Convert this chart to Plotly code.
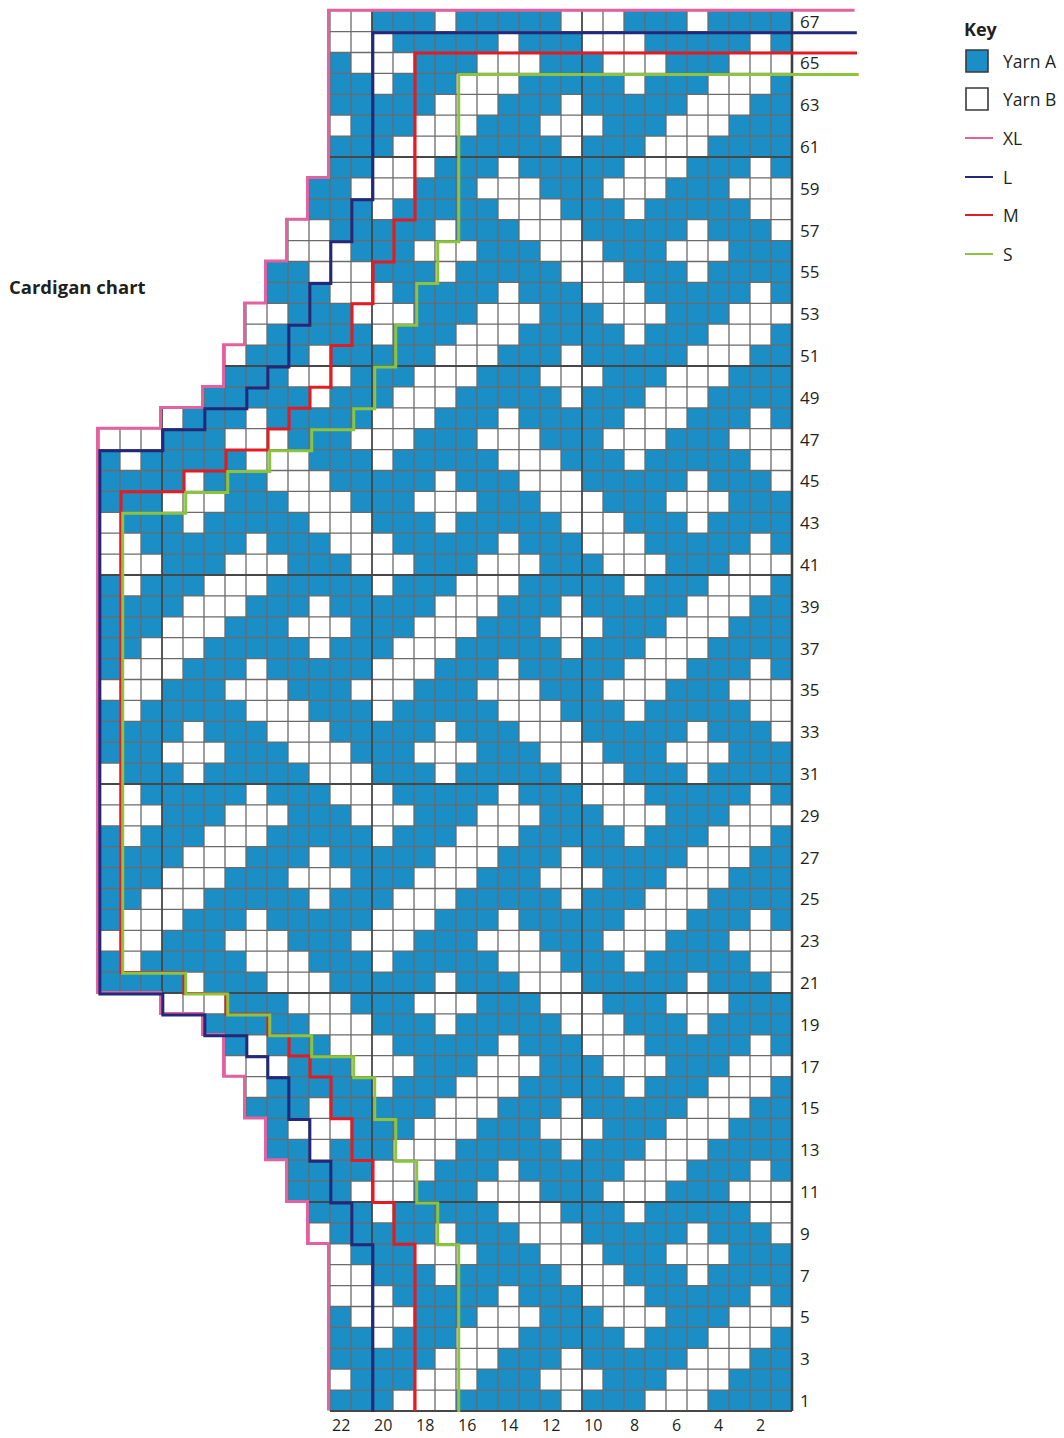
import plotly.graph_objects as go

# ---- chart data -------------------------------------------------------------
# one string per row, row 67 first; each string runs from the leftmost stitch
# down to stitch 1 on the right.  "x" = Yarn B (white), "." = Yarn A (blue)
chart_rows = [
    "xx...x.....xxx...x....",             # 67
    "xxx.....x...xxx.....x.",             # 66
    ".xxx...xxx...xxx...xxx",             # 65
    "..x...xxx.....x...xxx.",             # 64
    ".....xxx...x.....xxx..",             # 63
    "x...xxx...xxx...xxx...",             # 62
    "...xxx.....x...xxx....",             # 61
    "..xxx...x.....xxx...x.",             # 60
    "..xxx...xxx...xxx...xxx",            # 59
    "...x.....xxx...x.....xx",            # 58
    "xx.....x...xxx.....x...x",           # 57
    "xxx...xxx...xxx...xxx...",           # 56
    "..xxx...x.....xxx...x....",          # 55
    "...xxx.....x...xxx.....x.",          # 54
    "xx...xxx...xxx...xxx...xxx",         # 53
    "x.....x...xxx.....x...xxx.",         # 52
    "x...x.....xxx...x.....xxx..",        # 51
    "...xxx...xxx...xxx...xxx...",        # 50
    ".....x...xxx.....x...xxx....",       # 49
    "x...x.....xxx...x.....xxx...x.",     # 48
    "xxx...xxx...xxx...xxx...xxx...xxx",  # 47
    ".x.....xxx...x.....xxx...x.....xx",  # 46
    "....x...xxx.....x...xxx.....x...x",  # 45
    "...xxx...xxx...xxx...xxx...xxx...",  # 44
    "x...x.....xxx...x.....xxx...x....",  # 43
    "xx.....x...xxx.....x...xxx.....x.",  # 42
    "xxx...xxx...xxx...xxx...xxx...xxx",  # 41
    ".x...xxx.....x...xxx.....x...xxx.",  # 40
    "....xxx...x.....xxx...x.....xxx..",  # 39
    "...xxx...xxx...xxx...xxx...xxx...",  # 38
    "..xxx.....x...xxx.....x...xxx....",  # 37
    ".xxx...x.....xxx...x.....xxx...x.",  # 36
    "xxx...xxx...xxx...xxx...xxx...xxx",  # 35
    ".x.....xxx...x.....xxx...x.....xx",  # 34
    "....x...xxx.....x...xxx.....x...x",  # 33
    "...xxx...xxx...xxx...xxx...xxx...",  # 32
    "x...x.....xxx...x.....xxx...x....",  # 31
    "xx.....x...xxx.....x...xxx.....x.",  # 30
    "xxx...xxx...xxx...xxx...xxx...xxx",  # 29
    ".x...xxx.....x...xxx.....x...xxx.",  # 28
    "....xxx...x.....xxx...x.....xxx..",  # 27
    "...xxx...xxx...xxx...xxx...xxx...",  # 26
    "..xxx.....x...xxx.....x...xxx....",  # 25
    ".xxx...x.....xxx...x.....xxx...x.",  # 24
    "xxx...xxx...xxx...xxx...xxx...xxx",  # 23
    ".x.....xxx...x.....xxx...x.....xx",  # 22
    "....x...xxx.....x...xxx.....x...x",  # 21
    "xxx...xxx...xxx...xxx...xxx...",     # 20
    ".....xxx...x.....xxx...x....",       # 19
    ".x...xxx.....x...xxx.....x.",        # 18
    "xxx...xxx...xxx...xxx...xxx",        # 17
    "x.....x...xxx.....x...xxx.",         # 16
    "...x.....xxx...x.....xxx..",         # 15
    ".xxx...xxx...xxx...xxx...",          # 14
    "..x...xxx.....x...xxx....",          # 13
    "....xxx...x.....xxx...x.",           # 12
    "...xxx...xxx...xxx...xxx",           # 11
    "...x.....xxx...x.....xx",            # 10
    "x.....x...xxx.....x...x",            # 9
    "x...xxx...xxx...xxx...",             # 8
    "xx...x.....xxx...x....",             # 7
    "xxx.....x...xxx.....x.",             # 6
    ".xxx...xxx...xxx...xxx",             # 5
    "..x...xxx.....x...xxx.",             # 4
    ".....xxx...x.....xxx..",             # 3
    "x...xxx...xxx...xxx...",             # 2
    "...xxx.....x...xxx....",             # 1
]

row_labels = [1, 3, 5, 7, 9, 11, 13, 15, 17, 19, 21, 23, 25, 27, 29, 31, 33,
              35, 37, 39, 41, 43, 45, 47, 49, 51, 53, 55, 57, 59, 61, 63, 65, 67]
col_labels = [22, 20, 18, 16, 14, 12, 10, 8, 6, 4, 2]

# size outlines: (first row, last row, stitches from the right edge)
size_XL = [(1, 8, 22), (9, 10, 23), (11, 12, 24), (13, 14, 25), (15, 16, 26),
           (17, 18, 27), (19, 19, 28), (20, 20, 30), (21, 47, 33), (48, 48, 30),
           (49, 49, 28), (50, 51, 27), (52, 53, 26), (54, 55, 25), (56, 57, 24),
           (58, 59, 23), (60, 67, 22)]
size_L = [(1, 8, 20), (9, 10, 21), (11, 12, 22), (13, 14, 23), (15, 16, 24),
          (17, 17, 25), (18, 18, 26), (19, 19, 28), (20, 20, 30), (21, 46, 33),
          (47, 47, 30), (48, 48, 28), (49, 49, 26), (50, 50, 25), (51, 52, 24),
          (53, 54, 23), (55, 56, 22), (57, 58, 21), (59, 66, 20)]
size_M = [(1, 8, 18), (9, 10, 19), (11, 12, 20), (13, 14, 21), (15, 16, 22),
          (17, 17, 23), (18, 18, 24), (19, 19, 25), (20, 20, 27), (21, 21, 29),
          (22, 44, 32), (45, 45, 29), (46, 46, 27), (47, 47, 25), (48, 48, 24),
          (49, 49, 23), (50, 51, 22), (52, 53, 21), (54, 55, 20), (56, 57, 19),
          (58, 65, 18)]
size_S = [(1, 8, 16), (9, 10, 17), (11, 12, 18), (13, 14, 19), (15, 16, 20),
          (17, 17, 21), (18, 18, 23), (19, 19, 25), (20, 20, 27), (21, 21, 29),
          (22, 43, 32), (44, 44, 29), (45, 45, 27), (46, 46, 25), (47, 47, 23),
          (48, 48, 21), (49, 50, 20), (51, 52, 19), (53, 54, 18), (55, 56, 17),
          (57, 64, 16)]

size_names = ["XL", "L", "M", "S"]
size_colors = ["#e4619f", "#23287a", "#e31b23", "#8cc43f"]
yarn_names = ["Yarn A", "Yarn B"]
yarn_colors = ["#1b8ec5", "#ffffff"]

W, H = 1064, 1438
FONT = "Open Sans"
TXT = "#231f20"


# pixel -> data helpers (stitch columns grow to the left)
def xd(px):
    return (802.5 - px) / 21.0


def yd(py):
    return (1421.45 - py) / 20.9


n_rows = len(chart_rows)
n_cols = max(len(s) for s in chart_rows)
widths = {}
z = [[None] * n_cols for _ in range(n_rows)]
for i, s in enumerate(chart_rows):
    r = n_rows - i
    widths[r] = len(s)
    for j, ch in enumerate(s):
        k = len(s) - j
        z[r - 1][k - 1] = 1 if ch == "x" else 0

fig = go.Figure()
fig.add_trace(go.Heatmap(
    z=z, x=list(range(1, n_cols + 1)), y=list(range(1, n_rows + 1)),
    colorscale=[[0, yarn_colors[0]], [1, yarn_colors[1]]], zmin=0, zmax=1,
    showscale=False, hoverinfo="skip"))

# grid lines
thin_x, thin_y, heavy_x, heavy_y = [], [], [], []
for b in range(0, n_rows + 1):
    ext = max(widths.get(b, 0), widths.get(b + 1, 0))
    xs, ys = (heavy_x, heavy_y) if b % 10 == 0 else (thin_x, thin_y)
    xs += [0.5, ext + 0.5, None]
    ys += [b + 0.5, b + 0.5, None]
for k in range(1, n_cols + 1):
    rows = [r for r in widths if widths[r] >= k]
    xs, ys = (heavy_x, heavy_y) if k % 10 == 0 else (thin_x, thin_y)
    xs += [k + 0.5, k + 0.5, None]
    ys += [min(rows) - 0.5, max(rows) + 0.5, None]

fig.add_trace(go.Scatter(x=thin_x, y=thin_y, mode="lines",
                         line=dict(color="#6b6b6b", width=1.3), hoverinfo="skip"))
fig.add_trace(go.Scatter(x=heavy_x, y=heavy_y, mode="lines",
                         line=dict(color="#474747", width=1.8), hoverinfo="skip"))
fig.add_trace(go.Scatter(x=[0.5, 0.5], y=[0.5, n_rows + 0.5], mode="lines",
                         line=dict(color="#404040", width=2.6), hoverinfo="skip"))


def outline(steps, dx, dy):
    wm = {}
    for a, b, w in steps:
        for r in range(a, b + 1):
            wm[r] = w
    top = max(wm)
    xs = [xd(856), wm[top] + 0.5]
    ys = [top + 0.5, top + 0.5]
    for r in range(top, 0, -1):
        xs.append(wm[r] + 0.5)
        ys.append(r - 0.5)
        if r > 1 and wm[r - 1] != wm[r]:
            xs.append(wm[r - 1] + 0.5)
            ys.append(r - 0.5)
    return [x + dx for x in xs], [y + dy for y in ys]


offsets = [(0.07, 0.02), (-0.04, -0.05), (-0.05, -0.02), (-0.13, -0.05)]
for steps, col, (dx, dy) in zip([size_XL, size_L, size_M, size_S], size_colors, offsets):
    ox, oy = outline(steps, dx, dy)
    fig.add_trace(go.Scatter(x=ox, y=oy, mode="lines",
                             line=dict(color=col, width=3), hoverinfo="skip"))

annotations = []
for r in row_labels:
    annotations.append(dict(x=xd(798), y=r, text=str(r), xanchor="left", yanchor="middle",
                            showarrow=False, font=dict(family=FONT, size=17, color=TXT)))
for c in col_labels:
    annotations.append(dict(x=c, y=yd(1425), text=str(c), xanchor="center", yanchor="middle",
                            showarrow=False, font=dict(family=FONT, size=16, color=TXT)))


def px(x):
    return x / W


def py(y):
    return 1 - y / H


annotations.append(dict(x=px(7), y=py(287), xref="paper", yref="paper", text="<b>Cardigan chart</b>",
                        xanchor="left", yanchor="middle", showarrow=False,
                        font=dict(family=FONT, size=18.5, color=TXT)))
annotations.append(dict(x=px(962), y=py(29), xref="paper", yref="paper", text="<b>Key</b>",
                        xanchor="left", yanchor="middle", showarrow=False,
                        font=dict(family=FONT, size=18, color=TXT)))

shapes = []
key_y = [61, 99, 138, 177, 215, 254]
for name, col, ky in zip(yarn_names, yarn_colors, key_y[:2]):
    shapes.append(dict(type="rect", xref="paper", yref="paper", x0=px(966), x1=px(988),
                       y0=py(ky - 11), y1=py(ky + 11), fillcolor=col,
                       line=dict(color="#3a3a3a", width=1.6)))
    annotations.append(dict(x=px(1001), y=py(ky), xref="paper", yref="paper", text=name,
                            xanchor="left", yanchor="middle", showarrow=False,
                            font=dict(family=FONT, size=17.5, color=TXT)))
for name, col, ky in zip(size_names, size_colors, key_y[2:]):
    shapes.append(dict(type="line", xref="paper", yref="paper", x0=px(965), x1=px(993),
                       y0=py(ky), y1=py(ky), line=dict(color=col, width=2)))
    annotations.append(dict(x=px(1001), y=py(ky), xref="paper", yref="paper", text=name,
                            xanchor="left", yanchor="middle", showarrow=False,
                            font=dict(family=FONT, size=17.5, color=TXT)))

fig.update_layout(
    width=W, height=H, margin=dict(l=0, r=0, t=0, b=0),
    paper_bgcolor="white", plot_bgcolor="white", showlegend=False,
    xaxis=dict(range=[xd(0), xd(W)], visible=False, fixedrange=True),
    yaxis=dict(range=[yd(H), yd(0)], visible=False, fixedrange=True),
    annotations=annotations, shapes=shapes,
)

# the page's default body margin would push the figure 8px in; drop it
fig.write_html("out.html", config={"displayModeBar": False},
               post_script="document.body.style.margin='0px';document.body.style.overflow='hidden';")
